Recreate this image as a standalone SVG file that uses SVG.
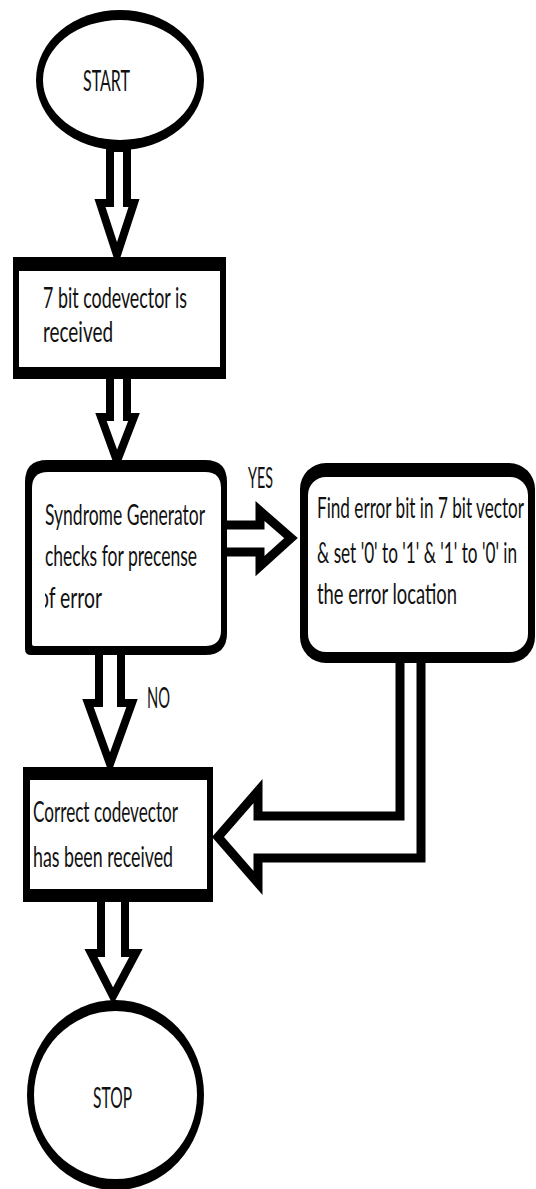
<svg xmlns="http://www.w3.org/2000/svg" width="536" height="1189" viewBox="0 0 536 1189">
  <style>
    .edge { fill: #ffffff; stroke: #000000; stroke-width: 8; stroke-linejoin: miter; }
    .frame { fill: #000000; }
    .face { fill: #ffffff; }
    .lbl { font-family: Lato, "Open Sans", "Liberation Sans", sans-serif; font-size: 28px; fill: #111111; }
  </style>
  <defs>
    <clipPath id="clip-syndrome-text">
      <rect x="45" y="580" width="120" height="40"/>
    </clipPath>
  </defs>
  <rect width="536" height="1189" fill="#ffffff"/>

  <!-- block-arrow connectors -->
  <g id="connectors">
    <polygon class="edge" points="110,148 110,203 100,203 117,255 134,203 127,203 127,148"/>
    <polygon class="edge" points="110,375 110,417 101,417 117,461 134,417 127,417 127,375"/>
    <polygon class="edge" points="222,525 260,525 260,511 291,538 260,566 260,552 222,552" style="stroke-width:9"/>
    <polygon class="edge" points="99,650 99,703 88,703 110,764 132,703 121,703 121,650"/>
    <polygon class="edge" points="400,658 400,816 258,816 258,791 218,837 258,883 258,858 421,858 421,658" style="stroke-width:9"/>
    <polygon class="edge" points="101,898 101,953 91,953 113,996 136,953 125,953 125,898"/>
  </g>

  <!-- START terminal -->
  <g id="node-start">
    <ellipse class="frame" cx="120" cy="80" rx="84" ry="70"/>
    <ellipse class="face" cx="120" cy="80" rx="77" ry="60"/>
    <text class="lbl" transform="translate(83 91) scale(0.62 1)" textLength="75.8" lengthAdjust="spacingAndGlyphs">START</text>
  </g>

  <!-- receive step -->
  <g id="node-receive">
    <rect class="frame" x="13" y="257" width="213" height="122"/>
    <rect class="face" x="19" y="271" width="201" height="96"/>
    <text class="lbl" transform="translate(43 308) scale(0.62 1)" textLength="232.3" lengthAdjust="spacingAndGlyphs">7 bit codevector is</text>
    <text class="lbl" transform="translate(43 342) scale(0.62 1)" textLength="112.9" lengthAdjust="spacingAndGlyphs">received</text>
  </g>

  <!-- syndrome check -->
  <g id="node-syndrome">
    <path class="frame" d="M47,460 H205 Q227,460 227,482 V633 Q227,655 205,655 H31 Q25,655 25,649 V482 Q25,460 47,460 Z"/>
    <path class="face" d="M48,472 H205 Q221,472 221,488 V630 Q221,646 205,646 H34 Q32,646 32,644 V488 Q32,472 48,472 Z"/>
    <text class="lbl" transform="translate(45 525) scale(0.62 1)" textLength="258.1" lengthAdjust="spacingAndGlyphs">Syndrome Generator</text>
    <text class="lbl" transform="translate(45 566) scale(0.62 1)" textLength="245.2" lengthAdjust="spacingAndGlyphs">checks for precense</text>
    <g clip-path="url(#clip-syndrome-text)">
      <text class="lbl" transform="translate(38 608) scale(0.62 1)" textLength="103.2" lengthAdjust="spacingAndGlyphs">of error</text>
    </g>
  </g>

  <!-- branch labels -->
  <text id="label-yes" class="lbl" transform="translate(248 488) scale(0.62 1)" textLength="40.3" lengthAdjust="spacingAndGlyphs">YES</text>
  <text id="label-no" class="lbl" transform="translate(147 708) scale(0.62 1)" textLength="37.1" lengthAdjust="spacingAndGlyphs">NO</text>

  <!-- error correction step -->
  <g id="node-fix">
    <rect class="frame" x="300" y="463" width="235" height="200" rx="26" ry="26"/>
    <rect class="face" x="308" y="477" width="220" height="175" rx="18" ry="18"/>
    <text class="lbl" transform="translate(317 518) scale(0.62 1)" textLength="333.9" lengthAdjust="spacingAndGlyphs">Find error bit in 7 bit vector</text>
    <text class="lbl" transform="translate(317 563) scale(0.62 1)" textLength="322.6" lengthAdjust="spacingAndGlyphs">&amp; set '0' to '1' &amp; '1' to '0' in</text>
    <text class="lbl" transform="translate(317 604) scale(0.62 1)" textLength="225.8" lengthAdjust="spacingAndGlyphs">the error location</text>
  </g>

  <!-- result step -->
  <g id="node-correct">
    <rect class="frame" x="23" y="767" width="190" height="135"/>
    <rect class="face" x="30" y="780" width="177" height="109"/>
    <text class="lbl" transform="translate(33 822) scale(0.62 1)" textLength="233.9" lengthAdjust="spacingAndGlyphs">Correct codevector</text>
    <text class="lbl" transform="translate(33 867) scale(0.62 1)" textLength="225.8" lengthAdjust="spacingAndGlyphs">has been received</text>
  </g>

  <!-- STOP terminal -->
  <g id="node-stop">
    <ellipse class="frame" cx="115.5" cy="1095" rx="88.5" ry="95"/>
    <ellipse class="face" cx="115.5" cy="1095" rx="81.5" ry="84"/>
    <text class="lbl" transform="translate(93 1108) scale(0.62 1)" textLength="62.9" lengthAdjust="spacingAndGlyphs">STOP</text>
  </g>
</svg>
